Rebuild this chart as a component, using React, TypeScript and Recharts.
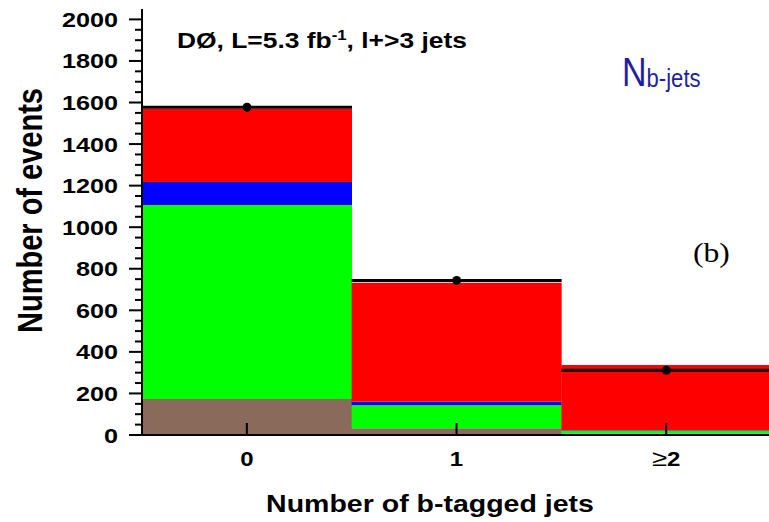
import React from 'react';
import { ComposedChart, Bar, XAxis, YAxis } from 'recharts';

// b-tag multiplicity bins
const bins = ['0', '1', '≥2'];

// stacked model contributions per bin (events)
const otherBkg = [173, 32, 7];
const wLight = [934, 111, 15];
const wHeavy = [110, 18, 2];
const ttbar = [353, 572, 313];

// observed events per bin
const observed = [1577, 744, 311];

const yMajorTicks = [0, 200, 400, 600, 800, 1000, 1200, 1400, 1600, 1800, 2000];
const yAllTicks = Array.from({ length: 41 }, (_, i) => i * 50);

const rows = bins.map((bin, i) => ({
  bin,
  otherBkg: otherBkg[i],
  wLight: wLight[i],
  wHeavy: wHeavy[i],
  ttbar: ttbar[i],
  observed: observed[i],
}));

const FONT = '"Liberation Sans", Arial, Helvetica, sans-serif';
const SX = 1.2;

const YTick = (props: any) => {
  const { x, y, payload } = props;
  const v = payload.value as number;
  const major = yMajorTicks.includes(v);
  return (
    <g>
      <line x1={x - (major ? 13 : 7)} x2={x} y1={y} y2={y} stroke="#000" strokeWidth={2} />
      {major && (
        <text
          transform={`translate(${x - 24},${y + 7.5}) scale(${SX},1)`}
          textAnchor="end"
          fontSize={21}
          fontWeight="bold"
          fontFamily={FONT}
          fill="#000"
        >
          {v}
        </text>
      )}
    </g>
  );
};

const XTick = (props: any) => {
  const { x, y, payload } = props;
  const label = String(payload.value);
  const geq = label.startsWith('≥');
  return (
    <g>
      <line x1={x} x2={x} y1={y} y2={y - 12} stroke="#000" strokeWidth={2} />
      <text
        transform={`translate(${x},${y + 31}) scale(${SX},1)`}
        textAnchor="middle"
        fontSize={20}
        fontWeight="bold"
        fontFamily={FONT}
        fill="#000"
      >
        {geq ? (
          <>
            <tspan fontWeight="normal" fontSize={23}>≥</tspan>
            <tspan>{label.slice(1)}</tspan>
          </>
        ) : (
          label
        )}
      </text>
    </g>
  );
};

// observed counts: horizontal line across the bin with a marker at the centre
const ObservedMark = (props: any) => {
  const { x, y, width } = props;
  return (
    <g>
      <line x1={x} x2={x + width} y1={y} y2={y} stroke="#000" strokeWidth={3} />
      <circle cx={x + width / 2} cy={y} r={4.5} fill="#000" />
    </g>
  );
};

export default function App() {
  return (
    <div style={{ position: 'absolute', left: 0, top: 0, width: 769, height: 522, overflow: 'hidden', background: '#fff' }}>
      <ComposedChart
        width={772}
        height={522}
        data={rows}
        margin={{ top: 9, right: 1, bottom: 0, left: 0 }}
        barCategoryGap={0}
        barGap={0}
      >
        <Bar dataKey="otherBkg" stackId="mc" xAxisId="main" fill="#8a6a5a" isAnimationActive={false} />
        <Bar dataKey="wLight" stackId="mc" xAxisId="main" fill="#00ff00" isAnimationActive={false} />
        <Bar dataKey="wHeavy" stackId="mc" xAxisId="main" fill="#0000ff" isAnimationActive={false} />
        <Bar dataKey="ttbar" stackId="mc" xAxisId="main" fill="#ff0000" isAnimationActive={false} />
        <Bar dataKey="observed" xAxisId="frame" shape={ObservedMark} isAnimationActive={false} />

        <XAxis
          xAxisId="main"
          dataKey="bin"
          type="category"
          height={87}
          axisLine={{ stroke: '#000', strokeWidth: 2 }}
          tickLine={false}
          tickSize={0}
          tickMargin={0}
          interval={0}
          tick={XTick}
        />
        <XAxis
          xAxisId="frame"
          dataKey="bin"
          type="category"
          orientation="top"
          height={0}
          axisLine={{ stroke: '#000', strokeWidth: 2 }}
          tickLine={false}
          tick={false}
        />
        <YAxis
          type="number"
          domain={[0, 2050]}
          ticks={yAllTicks}
          interval={0}
          width={142}
          axisLine={{ stroke: '#000', strokeWidth: 2 }}
          tickLine={false}
          tickSize={0}
          tickMargin={0}
          tick={YTick}
          allowDataOverflow
        />

        <text
          transform="translate(42,210.5) rotate(-90) scale(1,1.2)"
          textAnchor="middle"
          fontSize={29}
          fontWeight="bold"
          fontFamily={FONT}
          fill="#000"
        >
          Number of events
        </text>
        <text
          transform={`translate(430,511.5) scale(1.24,1)`}
          textAnchor="middle"
          fontSize={23}
          fontWeight="bold"
          fontFamily={FONT}
          fill="#000"
        >
          Number of b-tagged jets
        </text>
        <text
          transform={`translate(177,48) scale(${SX},1)`}
          fontSize={22}
          fontWeight="bold"
          fontFamily={FONT}
          fill="#000"
        >
          DØ, L=5.3 fb
          <tspan fontSize={14} dy={-8}>-1</tspan>
          <tspan dy={8}>, l+&gt;3 jets</tspan>
        </text>
        <text transform="translate(622,86) scale(0.85,1)" fontFamily={FONT} fill="#1f1fa0">
          <tspan fontSize={40}>N</tspan>
          <tspan fontSize={26} dy={1}>b-jets</tspan>
        </text>
        <text
          transform="translate(693,261.7) scale(1.13,1)"
          fontSize={28}
          fontFamily='"Liberation Serif", "Times New Roman", serif'
          fill="#000"
        >
          (b)
        </text>
      </ComposedChart>
    </div>
  );
}
